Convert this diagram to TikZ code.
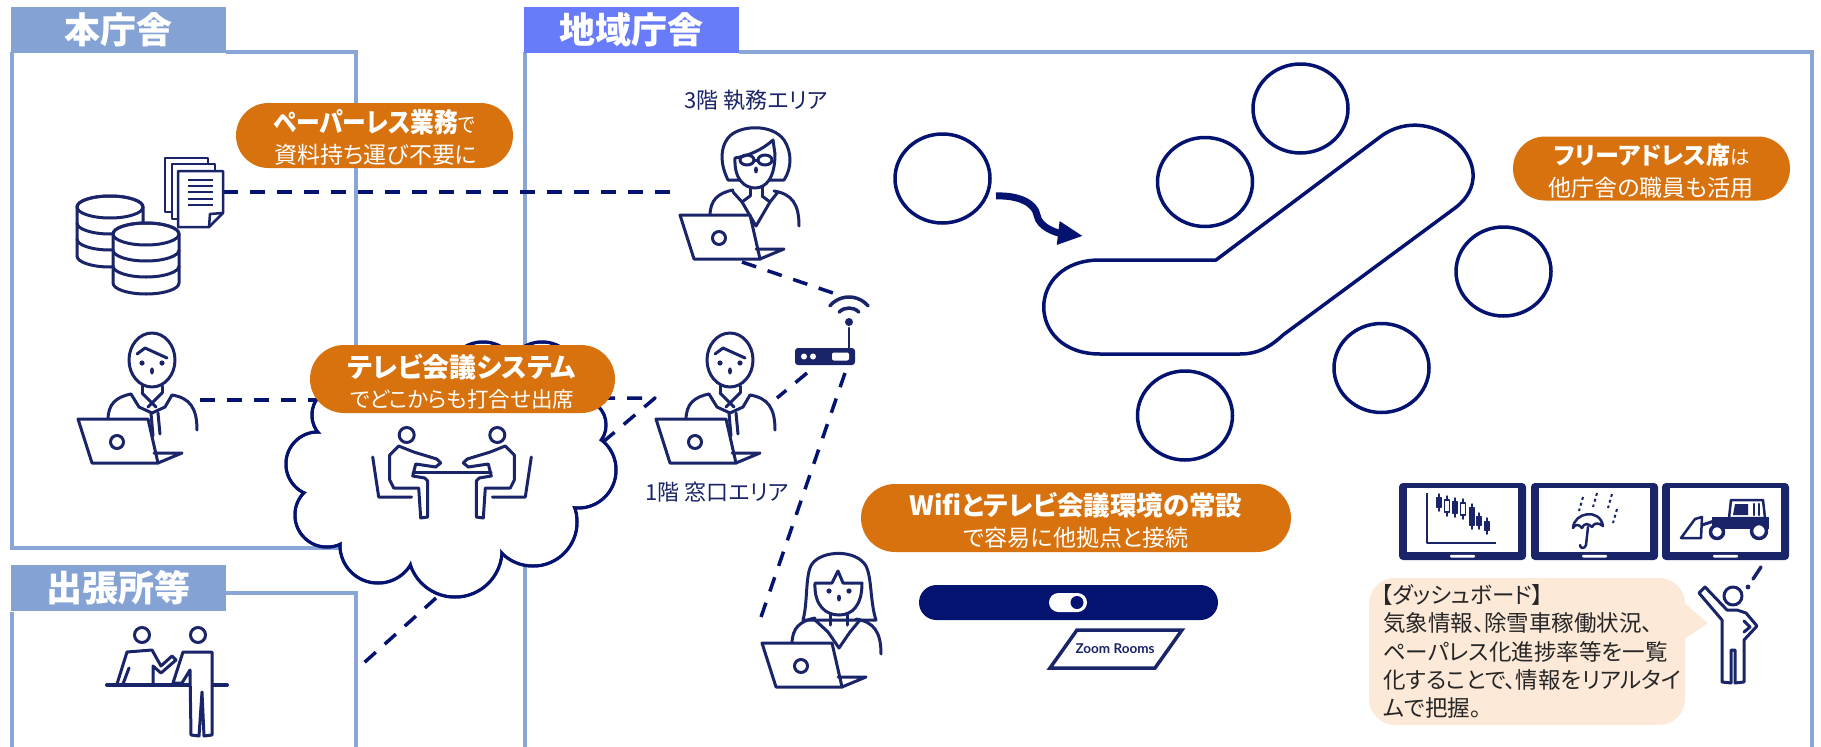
\documentclass[tikz,border=0pt]{standalone}
\usepackage{fontspec}
\setmainfont{Noto Sans CJK JP}[RawFeature=+palt]
\newfontfamily\jpnarrow{Noto Sans CJK JP}[RawFeature=+palt, FakeStretch=0.88]
\newfontfamily\roomfont{Lato}
\usetikzlibrary{arrows.meta}

\definecolor{lineNavy}{RGB}{4,18,112}
\definecolor{iconNavy}{RGB}{26,36,104}
\definecolor{boxBlue}{RGB}{138,166,214}
\definecolor{tabBlue}{RGB}{132,162,212}
\definecolor{tabBright}{RGB}{104,124,250}
\definecolor{pillOrange}{RGB}{215,114,14}
\definecolor{peach}{RGB}{252,233,216}

\def\fsz#1{\fontsize{#1pt}{#1pt}\selectfont}

% person at a laptop, head centre at (#1,#2), face drawn by #3
\def\deskuser(#1,#2)#3{%
  \begin{scope}[shift={(#1,#2)}, iconNavy, line width=3]
    #3
    \draw (-44,60) .. controls (-44,44) and (-36,37) .. (-21,34);
    \draw (20,35) .. controls (38,38) and (45,48) .. (45,70);
    \draw[fill=white] (-74,59) -- (-4,59) -- (6,103) -- (-60,103) -- cycle;
    \draw (-35,82) circle (6.5);
    \draw (2,93) -- (30,93) -- (6,103);
  \end{scope}}

\def\manface{%
  \draw[fill=white] (0,0) ellipse (23 and 27);
  \draw (-15,-6) -- (-7,-12) -- (15,-2);
  \fill (-10,3) circle (2.6) (10,3) circle (2.6);
  \fill (0,11) ellipse (2 and 3.6);
  \draw (-10,26) -- (-10,33) (10,26) -- (10,33);
  \draw (-21,34) -- (-13,47) -- (0,53) -- (13,47) -- (20,35);
  \draw (-10,33) -- (4,47) (10,33) -- (-4,47);
  \draw (-1,53) -- (1,76) (6,53) -- (8,74);}

\def\glassface{%
  \draw[fill=white] (-26,24) .. controls (-34,8) and (-34,-8) .. (-26,-18)
    .. controls (-16,-31) and (18,-33) .. (30,-16)
    .. controls (38,-4) and (38,12) .. (30,24) -- cycle;
  \draw[fill=white] (-19,2) .. controls (-20,24) and (-9,32) .. (1,32)
    .. controls (12,32) and (21,22) .. (21,-2) -- (19,-16)
    .. controls (8,-6) and (-6,0) .. (-19,2) -- cycle;
  \draw (-7,4) ellipse (7 and 5) (11,4) ellipse (7 and 5);
  \draw (0,4) -- (4,4);
  \fill (2,14) ellipse (2 and 3.5);
  \draw (-4,31) -- (-4,40) (8,31) -- (8,40);
  \draw (-21,36) -- (-12,46) -- (2,70) -- (16,46) -- (24,36);
  \draw (-12,46) -- (-4,40) (16,46) -- (8,40);}

\def\longface{%
  \draw[fill=white] (-33,36) .. controls (-28,18) and (-31,-10) .. (-24,-20)
    .. controls (-14,-34) and (20,-35) .. (30,-18)
    .. controls (36,-6) and (34,18) .. (40,36) -- cycle;
  \draw[fill=white] (-21,-1) .. controls (-22,22) and (-10,31) .. (3,31)
    .. controls (16,31) and (26,22) .. (26,-1) -- (7,-1) -- (2,-13) -- (-4,-1) -- cycle;
  \fill (-7,7) circle (2.6) (13,7) circle (2.6);
  \fill (3,14) ellipse (2 and 3.5);
  \draw (-6,31) -- (-6,41) (11,31) -- (11,41);
  \draw (-21,36) -- (-8,48) -- (3,64) -- (14,48) -- (24,36);}

% database cylinder, top centre at (#1,#2)
\def\dbstack(#1,#2){%
  \begin{scope}[shift={(#1,#2)}, iconNavy, line width=3]
    \draw[fill=white] (-33,0) -- (-33,49) arc (180:0:33 and 11) -- (33,0) arc (0:-180:33 and 11) -- cycle;
    \draw (0,0) ellipse (33 and 11);
    \draw (-33,16) arc (180:0:33 and 11);
    \draw (-33,32) arc (180:0:33 and 11);
  \end{scope}}

% person at the table, facing right
\def\sitter{%
  \draw[fill=white] (0,0) circle (7.5);
  \draw (-8,11) -- (7,17) -- (30,24) -- (34,28) -- (29,32) -- (9,29) -- (6,41) -- (18,43)
    -- (21,46) -- (21,82) -- (14,83) -- (12,53) -- (-13,53) -- (-17,45) -- (-17,20) -- cycle;
  \draw (-34,22) -- (-28,62) -- (5,62);}

% wall display, top left at (#1,#2)
\def\screen(#1,#2){%
  \begin{scope}[shift={(#1,#2)}]
    \fill[iconNavy, rounded corners=4] (0,0) rectangle (127,77);
    \fill[white] (8,5) rectangle (119,69);
    \fill[white, rounded corners=1] (51,71.8) rectangle (76,74.5);
  \end{scope}}

\begin{document}
\begin{tikzpicture}[x=1pt, y=-1pt, line cap=round, line join=round,
    dashline/.style={lineNavy, line width=3.5, dash pattern=on 15pt off 12pt, line cap=butt},
    boxedge/.style={boxBlue, line width=3.5, line cap=butt, line join=miter},
    tab/.style={text=white, font=\fsz{36}\bfseries, inner sep=0, minimum width=215, minimum height=46},
    pill/.style={fill=pillOrange, inner sep=0},
    pilltext/.style={text=white, inner sep=0},
    floor/.style={iconNavy, font=\fsz{22}, inner sep=0},
    seat/.style={lineNavy, line width=3.5},
    icon/.style={iconNavy, line width=3},
    dashtext/.style={text=black!85, font=\fsz{22.5}, inner sep=0, anchor=west}]

\useasboundingbox (0,0) rectangle (1821,747);
\fill[white] (0,0) rectangle (1821,747);

%%%%% buildings %%%%%
\draw[boxedge] (226,52) -- (356,52) -- (356,548) -- (12,548) -- (12,52);
\draw[boxedge] (226,593) -- (356,593) -- (356,760);
\draw[boxedge] (12,612) -- (12,760);
\draw[boxedge] (739,52) -- (1812,52) -- (1812,760);
\draw[boxedge] (525,52) -- (525,760);

\node[tab, fill=tabBlue] (honcho) at (118.5,30) {本庁舎};
\node[tab, fill=tabBlue] (shutcho) at (118.5,588) {出張所等};
\node[tab, fill=tabBright] (chiiki) at (631,30) {地域庁舎};

%%%%% network %%%%%
\coordinate (docs) at (223,192);
\coordinate (desk3f) at (678,192);
\coordinate (leftman) at (200,400);
\coordinate (cloudL) at (330,400);
\coordinate (pillR) at (600,398);
\coordinate (desk1f) at (655,398);
\coordinate (cloudR) at (590,453);
\coordinate (laptop3f) at (742,262);
\coordinate (wifi) at (833,293);
\coordinate (routerL) at (807,373);
\coordinate (desk1fR) at (777,398);
\coordinate (routerR) at (845,373);
\coordinate (deskB) at (760,620);
\coordinate (cloudB) at (436,598);
\coordinate (counter) at (356,670);

\draw[dashline] (docs) -- (desk3f);
\draw[dashline] (leftman) -- (cloudL);
\draw[dashline] (pillR) -- (desk1f) -- (cloudR);
\draw[dashline] (laptop3f) -- (wifi);
\draw[dashline] (routerL) -- (desk1fR);
\draw[dashline] (routerR) -- (deskB);
\draw[dashline] (cloudB) -- (counter);

% cloud
\foreach \cx/\cy/\r in {340/415/28, 318/464/32, 327/515/32, 378/545/38, 455/550/47,
    533/522/44, 578/470/38, 580/425/26, 542/378/36, 483/378/36}
  \draw[seat] (\cx,\cy) circle (\r);
\foreach \cx/\cy/\r in {340/415/28, 318/464/32, 327/515/32, 378/545/38, 455/550/47,
    533/522/44, 578/470/38, 580/425/26, 542/378/36, 483/378/36}
  \fill[white] (\cx,\cy) circle ({\r-1.75});
\fill[white] (340,415) -- (318,464) -- (327,515) -- (378,545) -- (455,550) -- (533,522)
  -- (578,470) -- (580,425) -- (542,378) -- (483,378) -- cycle;

\begin{scope}[icon]
  \begin{scope}[shift={(406.7,435)}] \sitter \end{scope}
  \begin{scope}[shift={(497.3,435)}, xscale=-1] \sitter \end{scope}
  \draw (413,472.5) -- (491,472.5);
\end{scope}

%%%%% head office %%%%%
\dbstack(110,207)
\dbstack(146,234)
\draw[icon, line width=2.5, fill=white] (165,158) rectangle (208,212);
\draw[icon, line width=2.5, fill=white] (172,164) rectangle (215,219);
\draw[icon, line width=2.5, fill=white] (178,171) -- (223,171) -- (223,213) -- (209,227) -- (178,227) -- cycle;
\draw[icon, line width=2.5] (209,227) -- (210,214) -- (223,213);
\foreach \y in {180,186,192,199,205}
  \draw[iconNavy, line width=2.6, line cap=butt] (188,\y) -- (213,\y);

\deskuser(152,360){\manface}

% branch counter
\draw[icon, fill=white] (142,635) circle (7.5);
\draw[icon] (117,684) -- (127,652) -- (152,650) -- (161,666) -- (172,656) -- (176,660)
  -- (161,673) -- (153,666) -- (153,684);
\draw[icon] (123,684) -- (129,668);
\draw[iconNavy, line width=4] (107,685) -- (227,685);
\draw[icon, fill=white] (198,635) circle (7.5);
\draw[icon, fill=white] (173,683) -- (183,652) -- (212,652) -- (212,735) -- (204,736) -- (202,692)
  -- (199,736) -- (191,735) -- (190,670) -- (182,683) -- cycle;

%%%%% regional office %%%%%
\deskuser(754,156){\glassface}
\deskuser(730,360){\manface}
\deskuser(836,584){\longface}

\node[floor] (floor3) at (756,100) {3階 執務エリア};
\node[floor] (floor1) at (717,492) {1階 窓口エリア};

% router
\fill[iconNavy, rounded corners=3] (795,348) rectangle (855,365);
\fill[white] (804,356.5) circle (3) (813,356.5) circle (3);
\fill[white, rounded corners=2] (832,352.5) rectangle (849,360.5);
\draw[iconNavy, line width=2.5] (849,348) -- (849,328);
\fill[iconNavy] (849,322) circle (4);
\draw[iconNavy, line width=3.5] (849,322) ++(-135:14) arc (-135:-45:14);
\draw[iconNavy, line width=3.5] (849,322) ++(-140:25) arc (-140:-40:25);

% free address desks
\draw[seat] (1100,260) -- (1216,260) -- (1380,137) .. controls (1433,97) and (1508,168) .. (1455,208)
  -- (1283,335) .. controls (1270,347) and (1258,354) .. (1240,354) -- (1100,354)
  .. controls (1025,354) and (1025,260) .. (1100,260) -- cycle;
\foreach \cx/\cy in {942.5/178.5, 1300.5/108.5, 1205/182, 1503.5/271.5, 1381.5/368, 1185/415.5}
  \draw[seat] (\cx,\cy) ellipse (47.5 and 44.5);
\draw[lineNavy, line width=7, line cap=butt, -{Triangle[length=25pt, width=22pt]}]
  (996,196) .. controls (1018,195) and (1035,203) .. (1037,215)
  .. controls (1039,228) and (1058,233) .. (1083,236);

% conference bar
\fill[lineNavy, rounded corners=17.5] (919,585) rectangle (1218,620);
\fill[white, rounded corners=9.5] (1049,593) rectangle (1087,612);
\fill[lineNavy] (1077,602.5) circle (6.5);
\draw[iconNavy, line width=3.5, line join=miter] (1077,630) -- (1182,630) -- (1155,668) -- (1050,668) -- cycle;
\node[iconNavy, font=\roomfont\bfseries\fsz{13.5}, inner sep=0] (zoomrooms) at (1115,649) {Zoom Rooms};

%%%%% dashboard %%%%%
\screen(1399,483)
\screen(1531,483)
\screen(1662,483)

\draw[iconNavy, line width=1.8, line cap=butt] (1427,493) -- (1427,543) -- (1496,543);
\foreach \x/\t/\b/\c in {1439/498/507/iconNavy, 1447/500/512/white, 1455/502/513/iconNavy,
    1463/503/515/white, 1472/508/525/iconNavy, 1479/517/525/iconNavy, 1487/522/530/iconNavy} {
  \draw[iconNavy, line width=1.5] (\x,\t-4) -- (\x,\b+4);
  \draw[iconNavy, line width=1.5, fill=\c] (\x-2.6,\t) rectangle (\x+2.6,\b);
}

\begin{scope}[iconNavy, line width=2.5]
  \draw[fill=white] (1573,528) .. controls (1574,512) and (1600,508) .. (1603,526)
    .. controls (1598,522) and (1594,523) .. (1592,527)
    .. controls (1588,523) and (1584,523) .. (1582,528)
    .. controls (1579,524) and (1575,524) .. (1573,528) -- cycle;
  \draw (1588,527) -- (1586,545) .. controls (1585,549) and (1580,549) .. (1580,545);
  \foreach \x/\y in {1583/497, 1597/493, 1612/494, 1617/509}
    \draw[line width=2, dash pattern=on 3pt off 3pt, line cap=butt] (\x,\y) -- ++(-4,14);
\end{scope}

\begin{scope}[iconNavy, line width=2.5]
  \fill (1712,517) rectangle (1769,529);
  \draw[fill=white] (1729,518) -- (1731,500) -- (1763,500) -- (1765,518) -- cycle;
  \fill (1735,504) -- (1748,504) -- (1748,515) -- (1733,515) -- cycle;
  \draw (1754,504) -- (1754,515) (1759,504) -- (1759,515);
  \draw[line width=3] (1714,521) -- (1699,526);
  \draw[fill=white] (1681,538) -- (1701,538) -- (1702,517) -- (1695,519) -- cycle;
  \draw[line width=3.5, fill=white] (1717,532) circle (6.5) (1759,531) circle (7.5);
\end{scope}

\fill[peach, rounded corners=26] (1369,578) rectangle (1685,725);
\fill[peach] (1683,602) -- (1708,623) -- (1683,640) -- cycle;
\node[dashtext] (dashtitle) at (1381,595) {【ダッシュボード】};
\node[dashtext] (dashline1) at (1383,623) {気象情報、除雪車稼働状況、};
\node[dashtext] (dashline2) at (1383,652) {ペーパレス化進捗率等を一覧};
\node[dashtext] (dashline3) at (1383,680) {化することで、情報をリアルタイ};
\node[dashtext] (dashline4) at (1383,708) {ムで把握。};

% viewer
\draw[icon, fill=white] (1733,596) circle (9);
\draw[icon] (1699,593) -- (1722,620) -- (1722,682) -- (1731,683) -- (1731,650) -- (1735,650)
  -- (1735,683) -- (1744,682) -- (1744,640) -- (1757,626) -- (1746,613) -- (1737,610)
  -- (1727,610) -- (1705,587) -- cycle;
\draw[icon] (1744,621) -- (1750,627) -- (1744,632);
\draw[iconNavy, line width=3.5] (1761,567) -- (1753,579);
\fill[iconNavy] (1748,587) circle (2.4);

%%%%% callouts %%%%%
\node[pill, minimum width=277, minimum height=65, rounded corners=32.5] (paperless) at (374.5,135.5) {};
\node[pilltext] (paperlessA) at (374.5,122) {\jpnarrow\fsz{27}\bfseries ペーパーレス業務\fsz{21}\mdseries で};
\node[pilltext, font=\fsz{23}] (paperlessB) at (376,155) {資料持ち運び不要に};

\node[pill, minimum width=305, minimum height=68, rounded corners=34] (tvconf) at (462.5,379) {};
\node[pilltext, font=\fsz{27}\bfseries] (tvconfA) at (462,367) {テレビ会議システム};
\node[pilltext, font=\fsz{21.5}] (tvconfB) at (462,399) {でどこからも打合せ出席};

\node[pill, minimum width=277, minimum height=64, rounded corners=32] (freeaddr) at (1651.5,168.5) {};
\node[pilltext] (freeaddrA) at (1652,155) {\fsz{24}\bfseries フリーアドレス席\fsz{19.5}\mdseries は};
\node[pilltext, font=\fsz{23}] (freeaddrB) at (1651,188) {他庁舎の職員も活用};

\node[pill, minimum width=430, minimum height=68, rounded corners=34] (wifiset) at (1076,518) {};
\node[pilltext, font=\fsz{26.5}\bfseries] (wifisetA) at (1076,505) {Wifiとテレビ会議環境の常設};
\node[pilltext, font=\fsz{23}] (wifisetB) at (1076,538) {で容易に他拠点と接続};

\end{tikzpicture}
\end{document}
